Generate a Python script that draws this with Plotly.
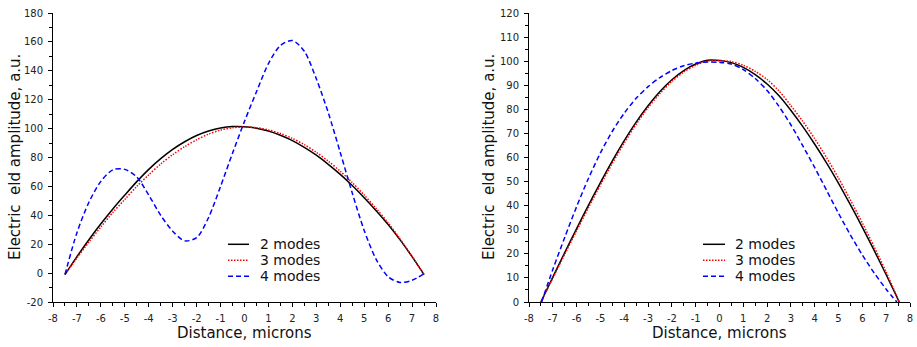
import plotly.graph_objects as go

# ---------------- data ----------------
x_left = [-7.5, -7, -6.5, -6, -5.5, -5, -4.5, -4, -3.5, -3, -2.5, -2, -1.5, -1, -0.5,
          0, 0.5, 1, 1.5, 2, 2.5, 3, 3.5, 4, 4.5, 5, 5.5, 6, 6.5, 7, 7.5]
left_2modes = [-1, 11.4, 23.1, 34.1, 44.4, 54.0, 63.3, 71.8, 79.2, 85.6, 90.9, 95.2, 98.3, 100.4, 101.4,
               101.3, 100.3, 98.3, 95.4, 91.7, 87.0, 81.6, 75.3, 68.3, 60.6, 52.2, 43.2, 33.6, 23.0, 11.4, -1]
left_3modes = [-1, 10.5, 21.5, 32.0, 42.0, 51.0, 60.0, 68.0, 75.5, 82.0, 87.5, 92.3, 96.2, 99.0, 100.6,
               101.1, 100.6, 99.1, 96.6, 93.2, 88.9, 83.6, 77.5, 70.5, 62.7, 54.0, 44.7, 34.8, 23.6, 11.6, -1]
left_4modes = [-1, 28, 49, 63.5, 71.5, 71.8, 66.5, 54, 40, 29, 22.3, 24.5, 38.5, 60, 83,
               105, 125.5, 145, 157.5, 161, 153.5, 134.5, 111, 83.5, 55.5, 29.5, 9.5, -2.5, -6.5, -5, -0.5]

x_right = [-7.5, -7, -6.5, -6, -5.5, -5, -4.5, -4, -3.5, -3, -2.5, -2, -1.5, -1, -0.5,
           0, 0.5, 1, 1.5, 2, 2.5, 3, 3.5, 4, 4.5, 5, 5.5, 6, 6.5, 7, 7.55]
right_2modes = [0, 10.3, 20.5, 30.5, 40.2, 49.6, 58.6, 67.0, 74.7, 81.5, 87.4, 92.3, 96.1, 98.8, 100.4,
                100.3, 99.4, 97.4, 94.4, 90.5, 85.6, 79.5, 72.8, 65.5, 57.7, 49.3, 40.3, 31.0, 21.3, 11.3, 0]
right_3modes = [0, 9.9, 19.8, 29.6, 39.2, 48.6, 57.6, 66.0, 73.8, 80.7, 86.6, 91.6, 95.5, 98.3, 100.0,
                100.3, 99.8, 98.3, 95.8, 92.4, 87.6, 81.5, 75.0, 67.8, 59.9, 51.4, 42.3, 32.8, 22.8, 12.4, 0]
x_right4 = [-7.47, -7, -6.5, -6, -5.5, -5, -4.5, -4, -3.5, -3, -2.5, -2, -1.5, -1, -0.5,
            0, 0.5, 1, 1.5, 2, 2.5, 3, 3.5, 4, 4.5, 5, 5.5, 6, 6.5, 7, 7.45]
right_4modes = [0, 13.5, 26.8, 39.6, 51.4, 61.9, 70.9, 78.4, 84.6, 89.4, 93.2, 96.1, 98.1, 99.2, 99.7,
                99.5, 98.8, 96.5, 92.8, 87.8, 81.2, 73.5, 64.8, 55.8, 46.3, 36.8, 27.8, 19.5, 12.0, 5.3, 0]

series_names = ["2 modes", "3 modes", "4 modes"]
x_ticks = list(range(-8, 9))
left_yticks = list(range(-20, 181, 20))
right_yticks = list(range(0, 121, 10))
x_title = "Distance, microns"
y_title = "Electric\u00a0 eld amplitude, a.u."

# ---------------- styling ----------------
W, H = 917, 347
ML, MR, MT, MB = 53, 7, 13, 45
PW, PH = W - ML - MR, H - MT - MB
FONT = "DejaVu Sans"
colors = ["#000000", "#ff0000", "#0000ff"]
dashes = ["solid", "1.5px,1.5px", "5px,3px"]


def px_x(p):
    return (p - ML) / PW


def px_y(p):
    return 1 - (p - MT) / PH


fig = go.Figure()
for ys, c, d, n in zip([left_2modes, left_3modes, left_4modes], colors, dashes, series_names):
    fig.add_trace(go.Scatter(x=x_left, y=ys, mode="lines", name=n, showlegend=False,
                             line=dict(color=c, width=1.5, dash=d, shape="spline", smoothing=0.8),
                             xaxis="x", yaxis="y"))
for xs, ys, c, d, n in zip([x_right, x_right, x_right4], [right_2modes, right_3modes, right_4modes],
                           colors, dashes, series_names):
    fig.add_trace(go.Scatter(x=xs, y=ys, mode="lines", name=n, showlegend=False,
                             line=dict(color=c, width=1.5, dash=d, shape="spline", smoothing=0.8),
                             xaxis="x2", yaxis="y2"))

common_axis = dict(showgrid=False, zeroline=False, showline=True, linecolor="#000", linewidth=1,
                   ticks="outside", ticklen=4, tickwidth=1, tickcolor="#000",
                   tickfont=dict(family=FONT, size=10, color="#222"),
                   ticklabelstandoff=3, automargin=False)
xaxis_common = dict(common_axis, range=[-8, 8], tickvals=x_ticks,
                    ticktext=[str(v) for v in x_ticks],
                    minor=dict(dtick=0.5, ticks="outside", ticklen=3, tickcolor="#000"))

fig.update_layout(
    width=W, height=H,
    margin=dict(l=ML, r=MR, t=MT, b=MB),
    paper_bgcolor="white", plot_bgcolor="white",
    xaxis=dict(xaxis_common, domain=[0, px_x(436)], anchor="y"),
    xaxis2=dict(xaxis_common, domain=[px_x(529), 1], anchor="y2"),
    yaxis=dict(common_axis, range=[-20, 180], tickvals=left_yticks,
               ticktext=[str(v) for v in left_yticks],
               minor=dict(dtick=10, ticks="outside", ticklen=3, tickcolor="#000"),
               domain=[0, 1], anchor="x"),
    yaxis2=dict(common_axis, range=[0, 120], tickvals=right_yticks,
                ticktext=[str(v) for v in right_yticks],
                minor=dict(dtick=5, ticks="outside", ticklen=3, tickcolor="#000"),
                domain=[0, 1], anchor="x2"),
)

title_font = dict(family=FONT, size=15, color="#111")
for cx in (244.5, 719.5):
    fig.add_annotation(xref="paper", yref="paper", x=px_x(cx), y=px_y(333), text=x_title,
                       showarrow=False, xanchor="center", yanchor="middle", font=title_font)
for cx in (14.5, 488.5):
    fig.add_annotation(xref="paper", yref="paper", x=px_x(cx), y=px_y(157.5), text=y_title,
                       textangle=-90, showarrow=False, xanchor="center", yanchor="middle",
                       font=title_font)

# legends (sample line + label) inside each panel
rows = [244.3, 260.3, 276.2]
for (s0, s1, tx) in [(228, 249, 258), (703, 725, 733)]:
    for r, c, d, n in zip(rows, colors, dashes, series_names):
        fig.add_shape(type="line", xref="paper", yref="paper",
                      x0=px_x(s0), x1=px_x(s1), y0=px_y(r), y1=px_y(r),
                      line=dict(color=c, width=1.5, dash=d))
        fig.add_annotation(xref="paper", yref="paper", x=px_x(tx), y=px_y(r),
                           text=n, showarrow=False, xanchor="left", yanchor="middle",
                           font=dict(family=FONT, size=14, color="#111"))

fig.write_html("out.html", config={"displayModeBar": False},
               post_script="document.body.style.margin='0px';")
